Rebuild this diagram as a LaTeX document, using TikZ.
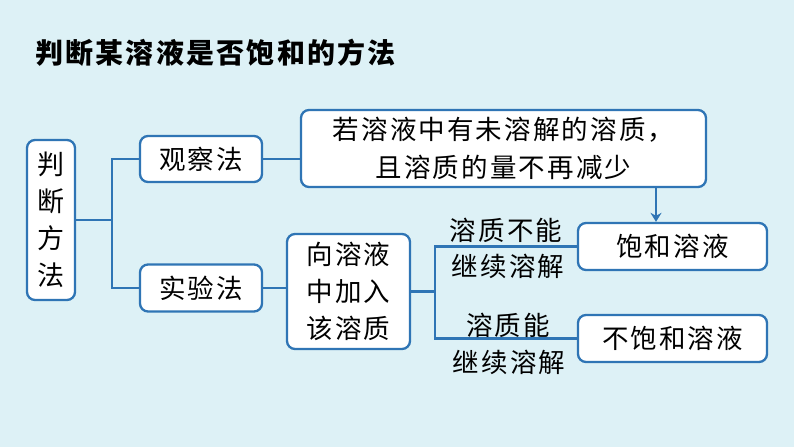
\documentclass[tikz,border=0pt]{standalone}
\usepackage{fontspec}
\setmainfont[LetterSpace=8]{Noto Sans CJK SC}
\usetikzlibrary{arrows.meta}
\definecolor{bg}{HTML}{DDF1F6}
\definecolor{ln}{HTML}{2F75B5}
\tikzset{
  box/.style={draw=ln,line width=2.3pt,fill=white,rounded corners=8pt,inner sep=0pt,font=\fontsize{26.5}{34}\selectfont,align=center},
  lnk/.style={draw=ln,line width=2.3pt},
  lbl/.style={inner sep=0pt,font=\fontsize{26.5}{30}\selectfont}
}
\begin{document}
\begin{tikzpicture}[x=1pt,y=-1pt]
\fill[bg] (0,0) rectangle (794,447);
\useasboundingbox (0,0) rectangle (794,447);
\node[inner sep=0pt,anchor=west,font=\fontsize{28}{30}\selectfont\bfseries] (title) at (35,53) {判断某溶液是否饱和的方法};
\node[box,minimum width=48pt,minimum height=160pt,font=\fontsize{27}{37}\selectfont] (pd) at (51,220) {判\\断\\方\\法};
\node[box,minimum width=122pt,minimum height=46pt] (gc) at (201,159) {观察法};
\node[box,minimum width=122pt,minimum height=47pt] (sy) at (201,288) {实验法};
\node[box,minimum width=405pt,minimum height=77pt,font=\fontsize{26.5}{38}\selectfont] (rs) at (503.5,148.5) {若溶液中有未溶解的溶质，\\且溶质的量不再减少};
\node[box,minimum width=123pt,minimum height=115pt,font=\fontsize{26.5}{37}\selectfont] (xr) at (348.5,291.5) {向溶液\\中加入\\该溶质};
\node[box,minimum width=189pt,minimum height=47pt] (bh) at (672.5,246.5) {饱和溶液};
\node[box,minimum width=189pt,minimum height=47pt] (bbh) at (672.5,338.5) {不饱和溶液};
\coordinate (j1) at (112,220);
\coordinate (j2) at (435,291.5);
\draw[lnk] (pd.east) -- (j1);
\draw[lnk] (gc.west) -| (j1) |- (sy.west);
\draw[lnk] (gc.east) -- (rs.west |- gc.east);
\draw[lnk] (sy.east) -- (xr.west |- sy.east);
\draw[lnk] (xr.east |- j2) -- (j2);
\draw[lnk] (bh.west) -| (j2) |- (bbh.west);
\draw[draw=ln,line width=2pt,-{Stealth[length=9pt,width=11pt]}] (rs.south -| 656,0) -- (bh.north -| 656,0);
\node[lbl] (l1) at (506,230) {溶质不能};
\node[lbl] (l2) at (508,266) {继续溶解};
\node[lbl] (l3) at (508,325) {溶质能};
\node[lbl] (l4) at (509,362) {继续溶解};
\end{tikzpicture}
\end{document}
